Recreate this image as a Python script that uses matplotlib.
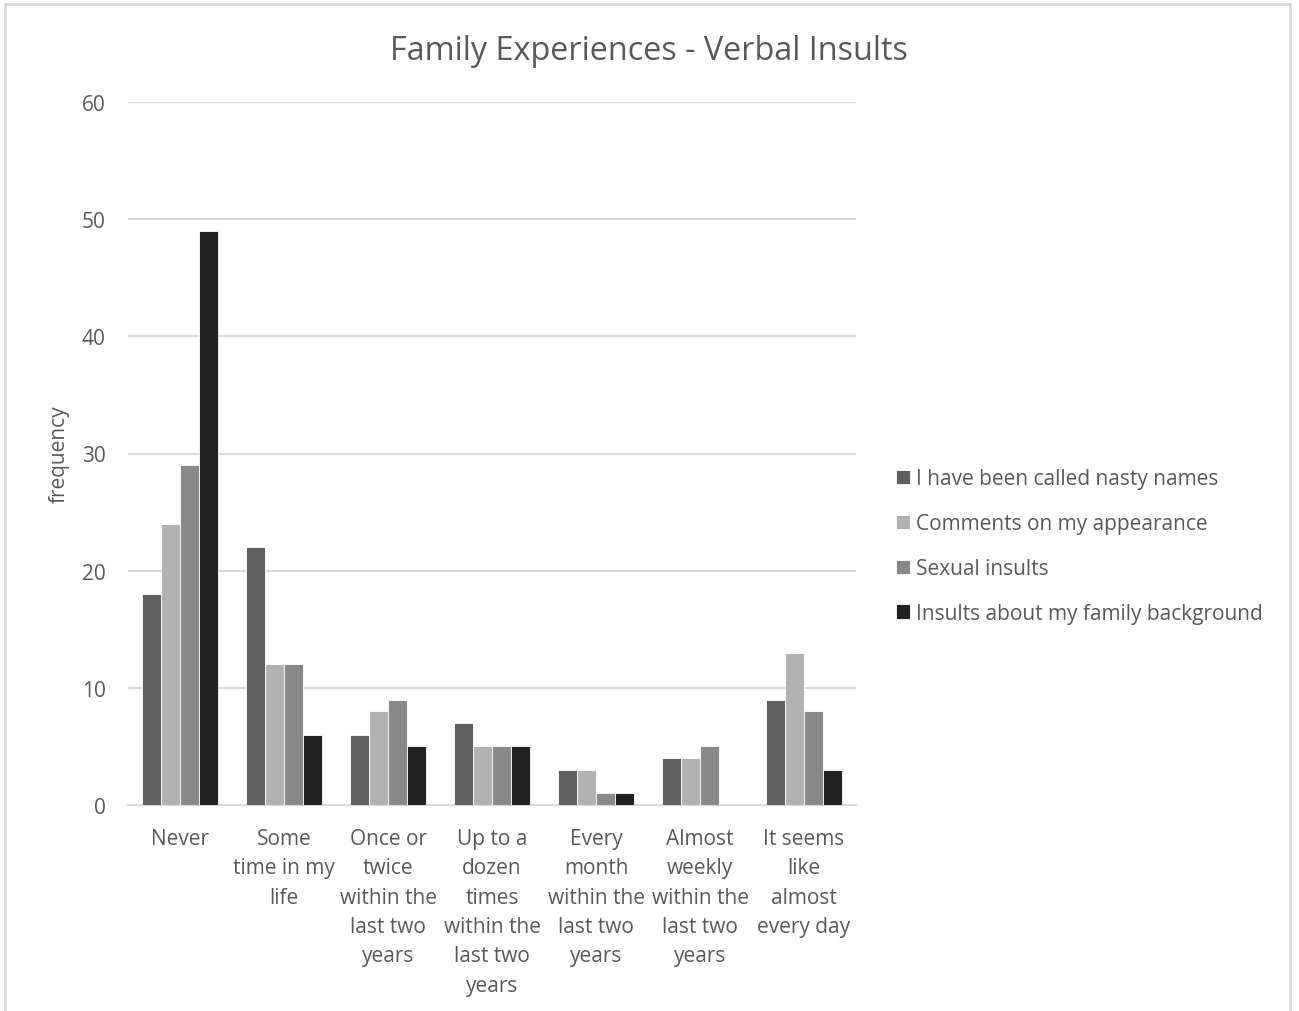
import matplotlib
matplotlib.use('Agg')
import matplotlib.pyplot as plt
import numpy as np
from matplotlib.patches import Rectangle

plt.rcParams['font.family'] = ['Open Sans', 'DejaVu Sans']

categories = ['Never', 'Some\ntime in my\nlife', 'Once or\ntwice\nwithin the\nlast two\nyears',
              'Up to a\ndozen\ntimes\nwithin the\nlast two\nyears',
              'Every\nmonth\nwithin the\nlast two\nyears',
              'Almost\nweekly\nwithin the\nlast two\nyears',
              'It seems\nlike\nalmost\nevery day']
series_names = ['I have been called nasty names', 'Comments on my appearance',
                'Sexual insults', 'Insults about my family background']
nasty_names = [18, 22, 6, 7, 3, 4, 9]
appearance = [24, 12, 8, 5, 3, 4, 13]
sexual = [29, 12, 9, 5, 1, 5, 8]
family_bg = [49, 6, 5, 5, 1, 0, 3]
colors = ['#5f5f5f', '#b2b2b2', '#898989', '#212121']

txt = '#595959'
grid = '#d9d9d9'

fig = plt.figure(figsize=(12.99, 10.12), dpi=100)
ax = fig.add_axes([128/1299, 1 - 806/1012, 728/1299, 703/1012])

x = np.arange(len(categories))
w = 0.183
for i, vals in enumerate([nasty_names, appearance, sexual, family_bg]):
    ax.bar(x + (i - 1.5) * w, vals, w, color=colors[i], label=series_names[i],
           edgecolor='white', linewidth=0.6, zorder=3)

ax.set_xlim(-0.5, len(categories) - 0.5)
ax.set_ylim(0, 60)
ax.set_yticks(range(0, 61, 10))
ax.yaxis.grid(True, color=grid, linewidth=1.5, zorder=0)
for s in ['top', 'right', 'left']:
    ax.spines[s].set_visible(False)
ax.spines['bottom'].set_color(grid)
ax.spines['bottom'].set_linewidth(1.5)
ax.tick_params(length=0, labelsize=15, labelcolor=txt)
ax.tick_params(axis='y', pad=16)
ax.tick_params(axis='x', pad=16.5)
ax.set_xticks(x)
ax.set_xticklabels(categories, linespacing=1.52)
ax.set_ylabel('frequency', fontsize=15, color=txt)
ax.yaxis.set_label_coords(-0.0797, 0.5)

fig.text(649/1299, 1 - 52/1012, 'Family Experiences - Verbal Insults', ha='center', va='center',
         fontsize=23.3, color=txt)

fig.legend(loc='center left', bbox_to_anchor=(877/1299, 1 - 547/1012), frameon=False,
           fontsize=15, labelcolor=txt, handlelength=0.68, handleheight=0.68,
           handletextpad=0.3, labelspacing=1.15)

fig.patches.append(Rectangle((5/1299, -0.1), 1285/1299, 1.1 - 5/1012, transform=fig.transFigure,
                             fill=False, edgecolor=grid, linewidth=2))

fig.savefig('out.png', dpi=100)
